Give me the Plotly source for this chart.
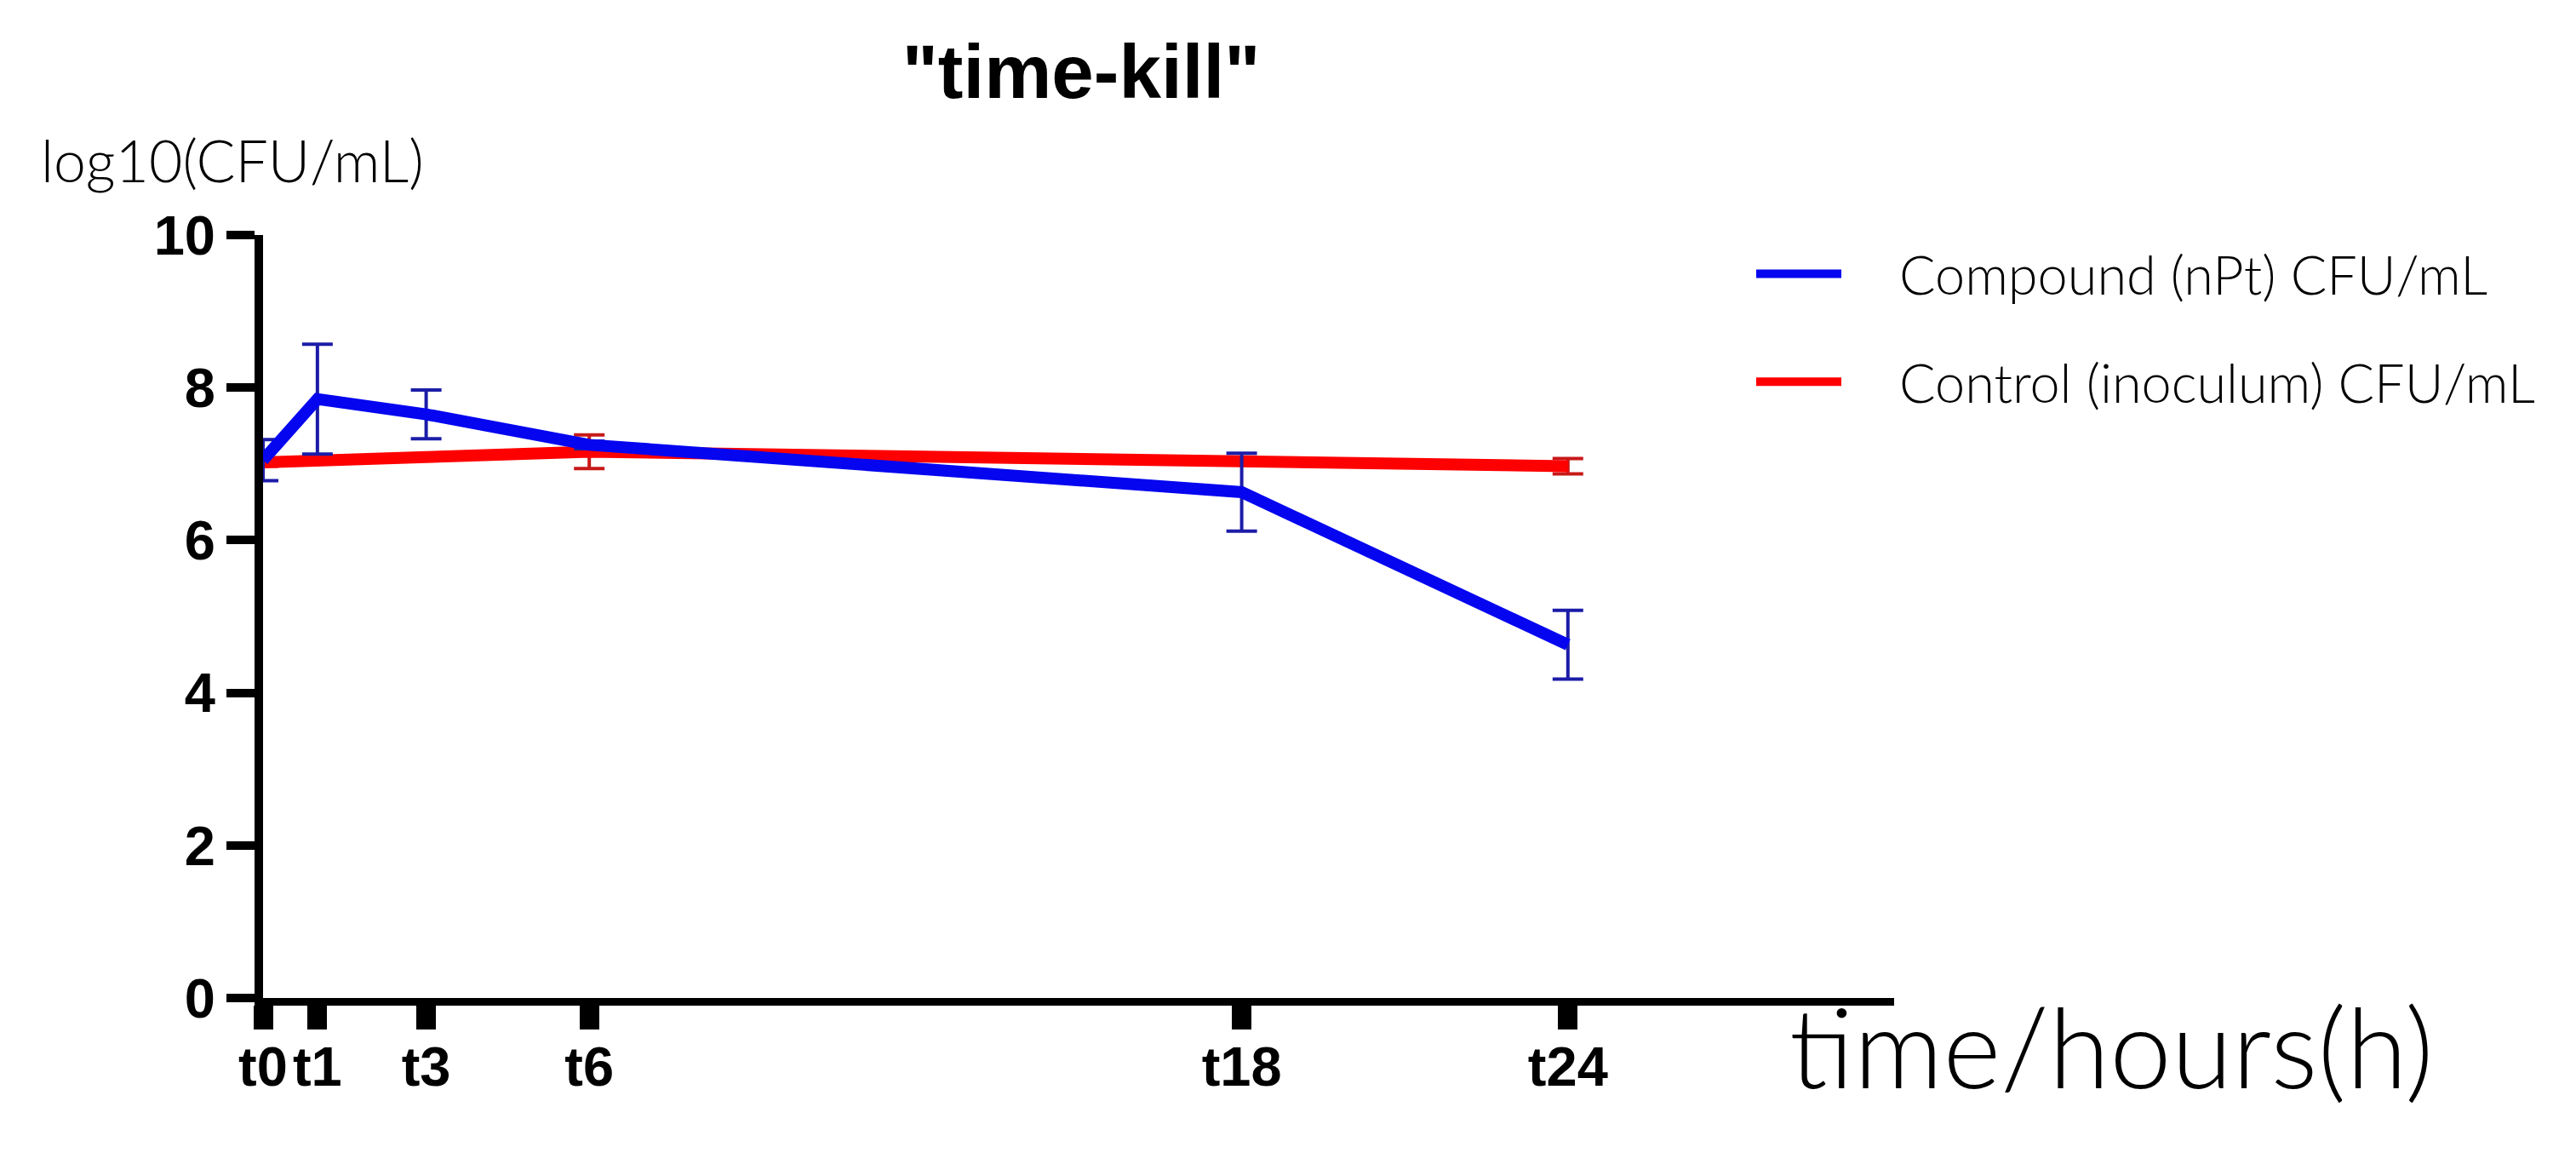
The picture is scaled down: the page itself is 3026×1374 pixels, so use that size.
import plotly.graph_objects as go

# ---- data ----
hours = [0, 1, 3, 6, 18, 24]
tick_labels = ["t0", "t1", "t3", "t6", "t18", "t24"]
compound = [7.05, 7.85, 7.65, 7.25, 6.63, 4.63]
compound_err = [0.27, 0.72, 0.32, 0.05, 0.51, 0.45]
control = [7.02, 7.05, 7.09, 7.16, 7.05, 6.97]
control_err = [0.05, 0.03, 0.03, 0.22, 0.04, 0.10]
series_names = ["Compound (nPt) CFU/mL", "Control (inoculum) CFU/mL"]

W, H = 3026, 1374
L, R = 301, 2217   # pixel x of x=0 and x=30
T, B = 268, 1164   # pixel y of y=10 and y=0
PW, PH = R - L, B - T


def px(x):
    return (x - L) / PW


def py(y):
    return (B - y) / PH


thin = dict(family="Lato", weight=300, color="black")
GAP = "\u2003\u2009\u2009"  # spacing between legend line and label

fig = go.Figure()
fig.add_trace(go.Scatter(
    x=hours, y=control, name=GAP + series_names[1], mode="lines",
    line=dict(color="#ff0000", width=14),
    error_y=dict(type="data", array=control_err, color="#c81818", thickness=4, width=18),
    cliponaxis=False, legendgroup="b", legendrank=2,
))
fig.add_trace(go.Scatter(
    x=hours, y=compound, name=GAP + series_names[0], mode="lines",
    line=dict(color="#0505f0", width=14),
    error_y=dict(type="data", array=compound_err, color="#1c1ca8", thickness=4, width=18),
    cliponaxis=False, legendgroup="a", legendrank=1,
))

fig.update_layout(
    width=W, height=H,
    margin=dict(l=L, r=W - R, t=T, b=H - B, pad=0, autoexpand=False),
    paper_bgcolor="white", plot_bgcolor="white",
    title=dict(text='"time-kill"', x=1262 / W, xanchor="center", y=1 - 76 / H, yanchor="middle",
               font=dict(family="Liberation Sans", size=89, weight="bold", color="black")),
    showlegend=True,
    legend=dict(x=px(2050), y=py(266), xanchor="left", yanchor="top",
                traceorder="grouped", tracegroupgap=42,
                font=dict(size=63, **thin), itemwidth=100,
                bgcolor="rgba(0,0,0,0)", borderwidth=0),
    xaxis=dict(range=[0, 30], tickmode="array", tickvals=hours, ticktext=tick_labels,
               showline=True, linecolor="black", linewidth=9,
               ticks="outside", ticklen=28, tickwidth=23, tickcolor="black",
               ticklabelstandoff=-12,
               tickfont=dict(family="Liberation Sans", size=65, weight="bold", color="black"),
               showgrid=False, zeroline=False, layer="below traces"),
    yaxis=dict(range=[0, 10], dtick=2, tick0=0,
               showline=True, linecolor="black", linewidth=10,
               ticks="outside", ticklen=33, tickwidth=10, tickcolor="black",
               tickfont=dict(family="Liberation Sans", size=65, weight="bold", color="black"),
               showgrid=False, zeroline=False, layer="below traces"),
    annotations=[
        dict(text="log10(CFU/mL)", xref="paper", yref="paper", x=px(38), y=py(180),
             xanchor="left", yanchor="middle", showarrow=False, font=dict(size=68, **thin)),
        dict(text="time/hours(h)", xref="paper", yref="paper", x=px(2092), y=py(1220),
             xanchor="left", yanchor="middle", showarrow=False, font=dict(size=130, **thin)),
    ],
)

fig.write_html("out.html")
